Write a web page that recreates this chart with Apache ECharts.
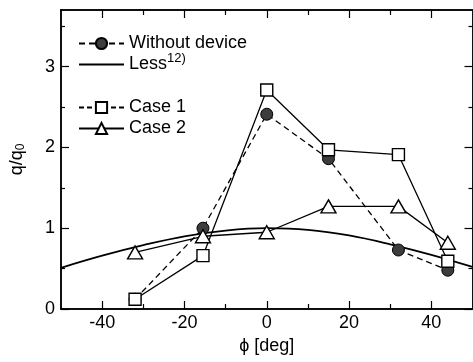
<!DOCTYPE html>
<html>
<head>
<meta charset="utf-8">
<script src="https://cdn.jsdelivr.net/npm/echarts@6/dist/echarts.min.js"></script>
<style>
  html, body { margin: 0; padding: 0; background: #fff; }
  #main { width: 473px; height: 362px; }
</style>
</head>
<body>
<div id="main"></div>
<script>
// angles of the measured points
var phi = [-32, -15.5, 0, 15, 32, 44];
// q/q0 values
var withoutDevice = [0.12, 1.0, 2.41, 1.86, 0.73, 0.48];
var case1 = [0.12, 0.66, 2.71, 1.97, 1.91, 0.59];
var case2 = [0.70, 0.90, 0.95, 1.27, 1.27, 0.82];
// Less curve, read at every 10 deg
var lessPhi = [-50, -40, -30, -20, -10, 0, 10, 20, 30, 40, 50];
var lessQ = [0.51, 0.66, 0.79, 0.90, 0.97, 1.0, 0.98, 0.91, 0.80, 0.67, 0.52];
// axis ticks
var xMajor = [-40, -20, 0, 20, 40];
var xMinor = [-30, -10, 10, 30];
var yMajor = [0, 1, 2, 3];
var yMinor = [0.5, 1.5, 2.5, 3.5];

function pairs(xs, ys) {
  return xs.map(function (x, i) { return [x, ys[i]]; });
}

var chart = echarts.init(document.getElementById('main'), null, { renderer: 'canvas' });
var font = 'Liberation Sans, Arial, sans-serif';
var black = '#000';

function xAx(pos, major, len, labels) {
  return {
    type: 'value', position: pos, min: -50, max: 50,
    axisLine: { show: true, onZero: false, lineStyle: { color: black, width: 1.5 } },
    axisTick: { show: true, inside: true, length: len, customValues: major, lineStyle: { color: black, width: 1.2 } },
    axisLabel: labels ? { show: true, customValues: major, color: black, fontSize: 18, fontFamily: font, margin: 5 } : { show: false },
    splitLine: { show: false }
  };
}
function yAx(pos, major, len, labels) {
  return {
    type: 'value', position: pos, min: 0, max: 3.7,
    axisLine: { show: true, onZero: false, lineStyle: { color: black, width: 1.5 } },
    axisTick: { show: true, inside: true, length: len, customValues: major, lineStyle: { color: black, width: 1.2 } },
    axisLabel: labels ? { show: true, customValues: major, color: black, fontSize: 18, fontFamily: font, margin: 6 } : { show: false },
    splitLine: { show: false }
  };
}

var xMain = xAx('bottom', xMajor, 8, true);
xMain.name = 'ϕ [deg]';
xMain.nameLocation = 'middle';
xMain.nameGap = 28;
xMain.nameTextStyle = { color: black, fontSize: 18, fontFamily: font };

var yMain = yAx('left', yMajor, 8, true);
yMain.name = 'q/q{sub|0}';
yMain.nameLocation = 'middle';
yMain.nameGap = 34;
yMain.nameTextStyle = { color: black, fontSize: 18, fontFamily: font,
  rich: { sub: { fontSize: 12, fontFamily: font, color: black, padding: [8, 0, 0, 0] } } };

var option = {
  animation: false,
  backgroundColor: '#fff',
  grid: { left: 58, right: 0.5, top: 10, bottom: 53 },
  xAxis: [
    xMain,
    xAx('bottom', xMinor, 5, false),
    xAx('top', xMajor, 8, false),
    xAx('top', xMinor, 5, false)
  ],
  yAxis: [
    yMain,
    yAx('left', yMinor, 4, false),
    yAx('right', yMajor, 8, false),
    yAx('right', yMinor, 4, false)
  ],
  legend: [
    {
      left: 73, top: 28, orient: 'vertical', itemWidth: 45, itemHeight: 14, itemGap: -2,
      textStyle: { color: black, fontSize: 18, fontFamily: font, lineHeight: 21,
        rich: { sup: { fontSize: 13, fontFamily: font, color: black, padding: [0, 0, 12, 0] } } },
      formatter: function (name) { return name === 'Less' ? 'Less{sup|12)}' : name; },
      data: ['Without device', { name: 'Less', itemStyle: { opacity: 0 } }]
    },
    {
      left: 73, top: 92, orient: 'vertical', itemWidth: 45, itemHeight: 14, itemGap: 0,
      textStyle: { color: black, fontSize: 18, fontFamily: font, lineHeight: 21 },
      data: [{ name: 'Case 1', lineStyle: { type: [5, 3] } }, 'Case 2']
    }
  ],
  series: [
    {
      name: 'Less', type: 'line', smooth: 0.4, symbol: 'none',
      data: pairs(lessPhi, lessQ),
      lineStyle: { color: black, width: 1.8 },
      itemStyle: { color: black }
    },
    {
      name: 'Without device', type: 'line', symbol: 'circle', symbolSize: 12,
      data: pairs(phi, withoutDevice),
      lineStyle: { color: black, width: 1.3, type: [6, 4] },
      itemStyle: { color: '#3c3c3c', borderColor: black, borderWidth: 1 }
    },
    {
      name: 'Case 2', type: 'line', symbol: 'triangle', symbolSize: [15, 13],
      data: pairs(phi, case2),
      lineStyle: { color: black, width: 1.3 },
      itemStyle: { color: '#fff', borderColor: black, borderWidth: 1.4 }
    },
    {
      name: 'Case 1', type: 'line', symbol: 'rect', symbolSize: 12,
      data: pairs(phi, case1),
      lineStyle: { color: black, width: 1.3 },
      itemStyle: { color: '#fff', borderColor: black, borderWidth: 1.4 }
    }
  ]
};
chart.setOption(option);
</script>
</body>
</html>
